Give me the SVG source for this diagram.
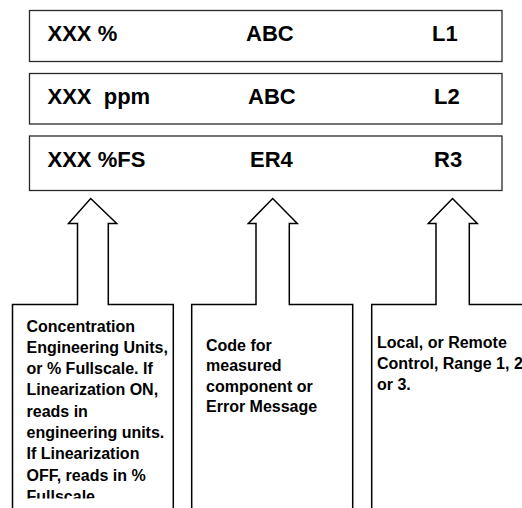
<svg xmlns="http://www.w3.org/2000/svg" width="522" height="508" viewBox="0 0 522 508">
  <style>
    .box { fill: #ffffff; stroke: #2a2a2a; stroke-width: 1.3; }
    .callout { fill: #ffffff; stroke: #000000; stroke-width: 1.5; stroke-linejoin: miter; }
    .big { font-family: "Liberation Sans", Arial, sans-serif; font-weight: bold; font-size: 22px; fill: #000; }
    .small { font-family: "Liberation Sans", Arial, sans-serif; font-weight: bold; font-size: 16px; fill: #000; }
  </style>
  <defs>
    <clipPath id="clipText">
      <rect x="0" y="300" width="522" height="198.5"/>
    </clipPath>
  </defs>
  <rect width="522" height="508" fill="#ffffff"/>

  <g id="display-row-1">
    <rect class="box" x="29.5" y="10.5" width="472.5" height="51"/>
    <text class="big" x="47.5" y="41">XXX %</text>
    <text class="big" x="246" y="41">ABC</text>
    <text class="big" x="432" y="41">L1</text>
  </g>
  <g id="display-row-2">
    <rect class="box" x="29.5" y="73.5" width="472.5" height="50.5"/>
    <text class="big" x="47.5" y="104" xml:space="preserve">XXX  ppm</text>
    <text class="big" x="248" y="104">ABC</text>
    <text class="big" x="434" y="104">L2</text>
  </g>
  <g id="display-row-3">
    <rect class="box" x="29.5" y="136" width="472.5" height="54.5"/>
    <text class="big" x="47.5" y="166.7">XXX %FS</text>
    <text class="big" x="250" y="166.7">ER4</text>
    <text class="big" x="434" y="166.7">R3</text>
  </g>

  <g id="connectors">
    <path id="callout-1" class="callout" d="M12.5,512 L12.5,304.5 L77.5,304.5 L77.5,223.5 L68.5,223.5 L90.7,198.5 L116.7,223.5 L108.3,223.5 L108.3,304.5 L173.3,304.5 L173.3,512"/>
    <path id="callout-2" class="callout" d="M191.7,512 L191.7,304.5 L256,304.5 L256,223.5 L248.3,223.5 L272.7,198.5 L297.3,223.5 L289.3,223.5 L289.3,304.5 L352.7,304.5 L352.7,512"/>
    <path id="callout-3" class="callout" d="M371.7,512 L371.7,304.5 L436,304.5 L436,223.5 L428.3,223.5 L452.5,198.5 L477.3,223.5 L469.3,223.5 L469.3,304.5 L530,304.5"/>
  </g>

  <g id="note-1" clip-path="url(#clipText)">
    <text class="small" x="26.5" y="331.5">Concentration</text>
    <text class="small" x="26.5" y="352.8">Engineering Units,</text>
    <text class="small" x="26.5" y="374.1">or % Fullscale. If</text>
    <text class="small" x="26.5" y="395.4">Linearization ON,</text>
    <text class="small" x="26.5" y="416.7">reads in</text>
    <text class="small" x="26.5" y="438">engineering units.</text>
    <text class="small" x="26.5" y="459.3">If Linearization</text>
    <text class="small" x="26.5" y="480.6">OFF, reads in %</text>
    <text class="small" x="26.5" y="501.9">Fullscale.</text>
  </g>
  <g id="note-2">
    <text class="small" x="206" y="350.5">Code for</text>
    <text class="small" x="206" y="371.1">measured</text>
    <text class="small" x="206" y="391.7">component or</text>
    <text class="small" x="206" y="412.3">Error Message</text>
  </g>
  <g id="note-3">
    <text class="small" x="377" y="347.5">Local, or Remote</text>
    <text class="small" x="377" y="368.8">Control, Range 1, 2</text>
    <text class="small" x="377" y="390.1">or 3.</text>
  </g>
</svg>
